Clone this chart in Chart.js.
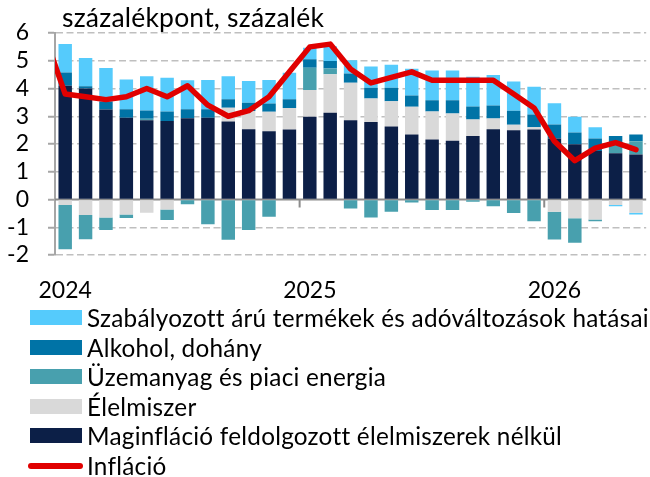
<!DOCTYPE html>
<html>
<head>
<meta charset="utf-8">
<script src="https://cdn.jsdelivr.net/npm/chart.js@4"></script>
<style>
  body { margin: 0; background: #fff; font-family: Lato, sans-serif; color: #000; }
  #wrap { position: relative; width: 650px; height: 477px; }
  #title { position: absolute; left: 62px; top: 2px; font-size: 26.5px; letter-spacing: 0.2px; line-height: 30px; }
  #chartBox { position: absolute; left: 0; top: 0; width: 650px; height: 310px; }
  #legend { position: absolute; left: 0; top: 303px; font-size: 24.3px; letter-spacing: 0.25px; }
  .row { position: relative; height: 29.6px; line-height: 29.6px; padding-left: 87px; white-space: nowrap; }
  .box { position: absolute; left: 30px; top: 7px; width: 52px; height: 15px; }
  .line { position: absolute; left: 28px; top: 12px; width: 55px; height: 6px; border-radius: 3px; background: #e00000; }
</style>
</head>
<body>
<div id="wrap">
  <div id="chartBox"><canvas id="chart" width="650" height="310"></canvas></div>
  <div id="title">százalékpont, százalék</div>
  <div id="legend"></div>
</div>
<script>
// monthly, Dec 2023 only carries the start of the inflation line (off the left edge)
var months = ['2023-12',
  '2024-01','2024-02','2024-03','2024-04','2024-05','2024-06','2024-07','2024-08','2024-09','2024-10','2024-11','2024-12',
  '2025-01','2025-02','2025-03','2025-04','2025-05','2025-06','2025-07','2025-08','2025-09','2025-10','2025-11','2025-12',
  '2026-01','2026-02','2026-03','2026-04','2026-05'];

var core = [null,
  4.10,4.00,3.24,2.95,2.86,2.83,2.93,2.95,2.81,2.53,2.46,2.52,
  2.98,3.13,2.86,2.79,2.63,2.34,2.16,2.12,2.29,2.53,2.50,2.52,
  2.20,1.99,1.75,1.67,1.62];
var food = [null,
  -0.20,-0.56,-0.65,-0.54,-0.48,-0.36,0,0,0.50,0.66,0.70,0.78,
  0.97,1.38,1.35,0.85,0.91,1.00,1.01,0.98,0.59,0.39,0.19,0.08,
  -0.44,-0.68,-0.72,-0.20,-0.48];
var fuel = [null,
  -1.59,-0.87,-0.45,-0.13,0.05,-0.38,-0.17,-0.89,-1.45,-1.10,-0.62,0,
  0.80,0.21,-0.32,-0.65,-0.44,-0.11,-0.38,-0.38,-0.08,-0.24,-0.49,-0.78,
  -1.00,-0.88,-0.06,0.38,0.48];
var alcohol = [null,
  0.48,0.08,0.29,0.30,0.30,0.34,0.32,0.30,0.30,0.30,0.30,0.31,
  0.30,0.27,0.33,0.39,0.49,0.41,0.41,0.48,0.47,0.47,0.51,0.46,
  0.50,0.42,0.45,0.24,0.24];
var regulated = [null,
  1.02,1.02,1.21,1.07,1.23,1.22,1.05,1.06,0.83,0.78,0.85,0.96,
  0.42,0.53,0.48,0.76,0.83,0.96,1.07,1.07,1.07,1.10,1.05,1.00,
  0.77,0.57,0.40,-0.04,-0.06];
var inflation = [5.9,
  3.8,3.7,3.6,3.7,4.0,3.7,4.1,3.4,3.0,3.2,3.7,4.6,
  5.5,5.6,4.7,4.2,4.4,4.6,4.3,4.3,4.3,4.3,3.8,3.3,
  2.1,1.4,1.85,2.05,1.8];
var yTicks = [-2,-1,0,1,2,3,4,5,6];

var names = ['Szabályozott árú termékek és adóváltozások hatásai','Alkohol, dohány',
  'Üzemanyag és piaci energia','Élelmiszer','Maginfláció feldolgozott élelmiszerek nélkül','Infláció'];
var colors = ['#55CBFC','#0073A6','#48A0AE','#D9D9D9','#0C1F47','#E00000'];

// legend
var leg = document.getElementById('legend');
names.forEach(function(n, i){
  var r = document.createElement('div');
  r.className = 'row';
  var m = document.createElement('span');
  if (i == 5) { m.className = 'line'; }
  else { m.className = 'box'; m.style.background = colors[i]; }
  r.appendChild(m);
  r.appendChild(document.createTextNode(n));
  leg.appendChild(r);
});

var zeroLine = {
  id: 'zeroLine',
  beforeDatasetsDraw: function(chart){
    var ctx = chart.ctx, a = chart.chartArea, x = chart.scales.x, y = chart.scales.y;
    var y0 = y.getPixelForValue(0);
    ctx.save();
    ctx.strokeStyle = '#8C8C8C';
    ctx.lineWidth = 2;
    ctx.beginPath();
    ctx.moveTo(a.left, y0); ctx.lineTo(a.right, y0);
    months.forEach(function(m, i){
      if (i > 1 && m.slice(5) == '01') {
        var xb = (x.getPixelForValue(i-1) + x.getPixelForValue(i)) / 2;
        ctx.moveTo(xb, y0); ctx.lineTo(xb, y0 + 8);
      }
    });
    ctx.stroke();
    ctx.restore();
  }
};

function bar(label, data, color){
  return { type: 'bar', label: label, data: data, backgroundColor: color, order: 1,
    barPercentage: 0.66, categoryPercentage: 1, stack: 's' };
}

new Chart(document.getElementById('chart'), {
  data: {
    labels: months,
    datasets: [
      { type: 'line', label: names[5], data: inflation, borderColor: colors[5], borderWidth: 5.5,
        pointRadius: 0, tension: 0, order: 0, clip: 0, borderJoinStyle: 'round', borderCapStyle: 'round' },
      bar(names[4], core, colors[4]),
      bar(names[3], food, colors[3]),
      bar(names[2], fuel, colors[2]),
      bar(names[1], alcohol, colors[1]),
      bar(names[0], regulated, colors[0])
    ]
  },
  options: {
    responsive: false,
    animation: false,
    layout: { padding: { top: 33, right: 1, left: 0, bottom: 0 } },
    plugins: { legend: { display: false }, tooltip: { enabled: false } },
    scales: {
      x: {
        stacked: true,
        offset: true,
        min: '2024-01',
        grid: { display: false },
        border: { display: false },
        ticks: {
          autoSkip: false, maxRotation: 0, padding: 14,
          color: '#000', font: { family: 'Lato', size: 23 },
          callback: function(v, i){ var m = months[v]; return m.slice(5) == '01' ? m.slice(0, 4) : ''; }
        },
        afterFit: function(s){ s.height = 55; }
      },
      y: {
        stacked: true,
        min: -2, max: 6,
        afterBuildTicks: function(s){ s.ticks = yTicks.map(function(v){ return { value: v }; }); },
        grid: {
          color: function(c){ return c.tick && c.tick.value === 0 ? 'rgba(0,0,0,0)' : '#BFBFBF'; },
          lineWidth: 1.5,
          tickLength: 7,
          tickColor: '#A6A6A6',
          tickWidth: 2
        },
        border: { display: true, color: '#A6A6A6', width: 2, dash: [7, 3.5] },
        ticks: { autoSkip: false, padding: 19, color: '#000', font: { family: 'Lato', size: 23 } },
        afterFit: function(s){ s.width = 55; }
      }
    }
  },
  plugins: [zeroLine]
});
</script>
</body>
</html>
